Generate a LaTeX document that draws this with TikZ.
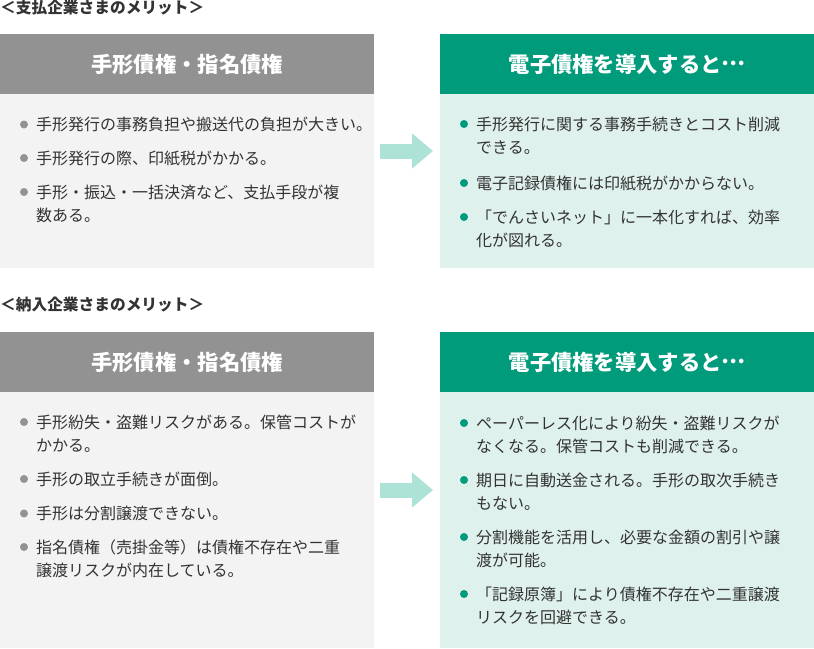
\documentclass[tikz,border=0pt]{standalone}
\usepackage{fontspec}
\setmainfont{Noto Sans CJK JP}
\usetikzlibrary{arrows.meta}
\definecolor{hdgray}{HTML}{929292}
\definecolor{bdgray}{HTML}{F3F3F3}
\definecolor{hdgreen}{HTML}{009B7B}
\definecolor{bdgreen}{HTML}{DFF1ED}
\definecolor{arrowc}{HTML}{ADE3D6}
\definecolor{txt}{HTML}{333333}
\newcommand\midellip{\raisebox{0.32em}{…}}
\begin{document}
\begin{tikzpicture}[x=1pt,y=-1pt,
  titletext/.style={anchor=west, inner sep=0pt, text=txt, font=\fontsize{15.7}{18}\selectfont\bfseries},
  hdbox/.style={anchor=north west, minimum width=374pt, minimum height=60pt, inner sep=0pt, text=white, font=\fontsize{21.3}{24}\selectfont\bfseries},
  bdbox/.style={anchor=north west, minimum width=374pt, inner sep=0pt},
  itemtext/.style={anchor=base west, inner sep=0pt, text width=345pt, align=left, text=txt, font=\fontsize{16}{23.5}\selectfont},
  dotgray/.style={circle, fill=hdgray, minimum size=8pt, inner sep=0pt},
  dotgreen/.style={circle, fill=hdgreen, minimum size=8pt, inner sep=0pt},
  bigarrow/.style={draw=arrowc, line width=15pt, -{Triangle[width=34pt,length=21pt,fill=arrowc]}}
]
\useasboundingbox (0,0) rectangle (814,648);

% ---------- section 1 ----------
\node[titletext] (t1) at (0,8) {＜支払企業さまのメリット＞};

\node[hdbox, fill=hdgray] (lh1) at (0,34) {手形債権・指名債権};
\node[bdbox, fill=bdgray, minimum height=174pt] (lb1) at (0,94) {};
\node[hdbox, fill=hdgreen] (rh1) at (440,34) {電子債権を導入すると\midellip};
\node[bdbox, fill=bdgreen, minimum height=174pt] (rb1) at (440,94) {};

\node[dotgray] (ld11) at (24,124.5) {};
\node[itemtext] (li11) at (36,130.5) {手形発行の事務負担や搬送代の負担が大きい。};
\node[dotgray] (ld12) at (24,158) {};
\node[itemtext] (li12) at (36,164) {手形発行の際、印紙税がかかる。};
\node[dotgray] (ld13) at (24,192) {};
\node[itemtext] (li13) at (36,198) {手形・振込・一括決済など、支払手段が複\\数ある。};

\node[dotgreen] (rd11) at (464,124) {};
\node[itemtext] (ri11) at (476,130) {手形発行に関する事務手続きとコスト削減\\できる。};
\node[dotgreen] (rd12) at (464,183) {};
\node[itemtext] (ri12) at (476,189) {電子記録債権には印紙税がかからない。};
\node[dotgreen] (rd13) at (464,217) {};
\node[itemtext] (ri13) at (476,223) {「でんさいネット」に一本化すれば、効率\\化が図れる。};

\coordinate (a1s) at (380,151);
\coordinate (a1e) at (433,151);
\draw[bigarrow] (a1s) -- (a1e);

% ---------- section 2 ----------
\node[titletext] (t2) at (0,305) {＜納入企業さまのメリット＞};

\node[hdbox, fill=hdgray] (lh2) at (0,332) {手形債権・指名債権};
\node[bdbox, fill=bdgray, minimum height=256pt] (lb2) at (0,392) {};
\node[hdbox, fill=hdgreen] (rh2) at (440,332) {電子債権を導入すると\midellip};
\node[bdbox, fill=bdgreen, minimum height=256pt] (rb2) at (440,392) {};

\node[dotgray] (ld21) at (24,422) {};
\node[itemtext] (li21) at (36,428) {手形紛失・盗難リスクがある。保管コストが\\かかる。};
\node[dotgray] (ld22) at (24,479) {};
\node[itemtext] (li22) at (36,485) {手形の取立手続きが面倒。};
\node[dotgray] (ld23) at (24,513.5) {};
\node[itemtext] (li23) at (36,519.5) {手形は分割譲渡できない。};
\node[dotgray] (ld24) at (24,547) {};
\node[itemtext] (li24) at (36,553) {指名債権（売掛金等）は債権不存在や二重\\譲渡リスクが内在している。};

\node[dotgreen] (rd21) at (464,423) {};
\node[itemtext] (ri21) at (476,429) {ペーパーレス化により紛失・盗難リスクが\\なくなる。保管コストも削減できる。};
\node[dotgreen] (rd22) at (464,480) {};
\node[itemtext] (ri22) at (476,486) {期日に自動送金される。手形の取次手続き\\もない。};
\node[dotgreen] (rd23) at (464,537) {};
\node[itemtext] (ri23) at (476,543) {分割機能を活用し、必要な金額の割引や譲\\渡が可能。};
\node[dotgreen] (rd24) at (464,594) {};
\node[itemtext] (ri24) at (476,600) {「記録原簿」により債権不存在や二重譲渡\\リスクを回避できる。};

\coordinate (a2s) at (380,490);
\coordinate (a2e) at (433,490);
\draw[bigarrow] (a2s) -- (a2e);
\end{tikzpicture}
\end{document}
